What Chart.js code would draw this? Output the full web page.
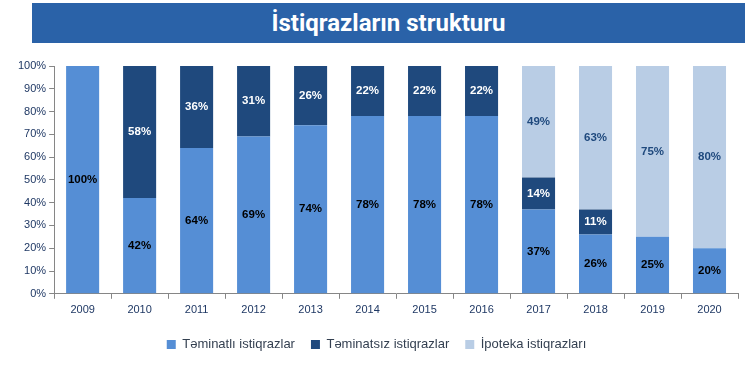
<!DOCTYPE html>
<html>
<head>
<meta charset="utf-8">
<script src="https://cdn.jsdelivr.net/npm/chart.js@4"></script>
<style>
  html, body { margin: 0; padding: 0; background: #fff; }
  #wrap { position: relative; width: 750px; height: 367px; }
  #title {
    position: absolute; left: 32px; top: 3px; width: 713px; height: 40px;
    background: #2A62A8; color: #fff; text-align: center;
    font: bold 24px Roboto, "Liberation Sans", sans-serif; line-height: 40px;
  }
  canvas { position: absolute; left: 0; top: 0; }
</style>
</head>
<body>
<div id="wrap">
  <div id="title">İstiqrazların strukturu</div>
  <canvas id="chart" width="750" height="367"></canvas>
</div>
<script>
// Years and shares (%) of each bond type
const years = ['2009', '2010', '2011', '2012', '2013', '2014', '2015', '2016', '2017', '2018', '2019', '2020'];
const secured = [100, 42, 64, 69, 74, 78, 78, 78, 37, 26, 25, 20];
const unsecured = [0, 58, 36, 31, 26, 22, 22, 22, 14, 11, 0, 0];
const mortgage = [0, 0, 0, 0, 0, 0, 0, 0, 49, 63, 75, 80];
const seriesNames = ['Təminatlı istiqrazlar', 'Təminatsız istiqrazlar', 'İpoteka istiqrazları'];

const labelColors = ['#000000', '#ffffff', '#1F497D'];

// draw value labels in the middle of each bar segment
const barLabels = {
    id: 'barLabels',
    afterDatasetsDraw(chart) {
        const ctx = chart.ctx;
        ctx.save();
        ctx.font = 'bold 11.5px "Liberation Sans", sans-serif';
        ctx.textAlign = 'center';
        ctx.textBaseline = 'middle';
        chart.data.datasets.forEach((ds, i) => {
            const meta = chart.getDatasetMeta(i);
            meta.data.forEach((bar, j) => {
                const v = ds.data[j];
                if (!v) return;
                ctx.fillStyle = labelColors[i];
                ctx.fillText(v + '%', bar.x, (bar.y + bar.base) / 2);
            });
        });
        ctx.restore();
    }
};

const ctx = document.getElementById('chart').getContext('2d');
const chart = new Chart(ctx, {
    type: 'bar',
    data: {
        labels: years,
        datasets: [
            { label: seriesNames[0], data: secured, backgroundColor: '#558ED5' },
            { label: seriesNames[1], data: unsecured, backgroundColor: '#1F497D' },
            { label: seriesNames[2], data: mortgage, backgroundColor: '#B9CDE5' }
        ]
    },
    options: {
        responsive: false,
        animation: false,
        datasets: { bar: { categoryPercentage: 1, barPercentage: 0.58 } },
        layout: { padding: { top: 66, left: 15, right: 12, bottom: 6 } },
        scales: {
            x: {
                stacked: true,
                border: { color: '#868686' },
                grid: { drawOnChartArea: false, color: '#868686', tickLength: 5 },
                ticks: { color: '#1F3864', font: { size: 11, family: '"Liberation Sans", sans-serif' }, padding: 5 }
            },
            y: {
                stacked: true,
                min: 0,
                max: 100,
                border: { color: '#868686' },
                grid: { drawOnChartArea: false, color: '#868686', tickLength: 5 },
                ticks: {
                    stepSize: 10,
                    color: '#1F3864',
                    font: { size: 11, family: '"Liberation Sans", sans-serif' },
                    padding: 3,
                    callback: v => v + '%'
                }
            }
        },
        plugins: {
            legend: {
                position: 'bottom',
                labels: {
                    boxWidth: 9,
                    boxHeight: 9,
                    padding: 16,
                    color: '#333F50',
                    font: { size: 13, family: '"Liberation Sans", sans-serif' }
                }
            },
            tooltip: { enabled: false }
        }
    },
    plugins: [barLabels]
});
</script>
</body>
</html>
